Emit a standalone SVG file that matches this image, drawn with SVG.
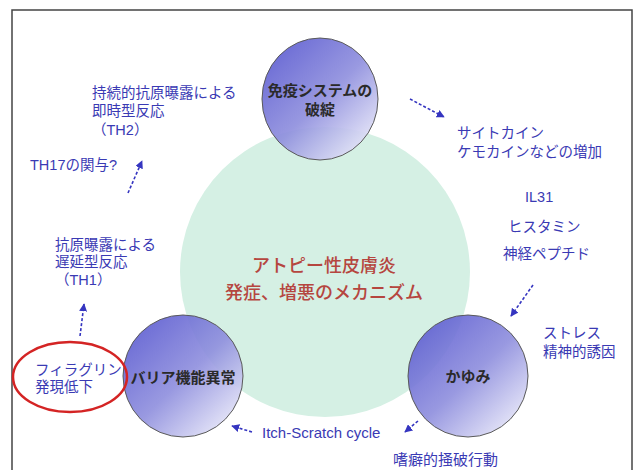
<svg xmlns="http://www.w3.org/2000/svg" width="639" height="470" viewBox="0 0 639 470">
<defs>
<linearGradient id="blueGrad" x1="0.1" y1="0.15" x2="0.85" y2="0.95">
<stop offset="0" stop-color="#6262d2"/>
<stop offset="0.5" stop-color="#9090de"/>
<stop offset="1" stop-color="#e6e6f8"/>
</linearGradient>
<marker id="ah" viewBox="0 0 10 10" refX="9" refY="5" markerWidth="5" markerHeight="5" orient="auto" markerUnits="strokeWidth">
<path d="M0,0 L10,5 L0,10 z" fill="#3535c0"/>
</marker>
<style>
.lbl{font-family:"Liberation Sans","Noto Sans CJK JP",sans-serif;font-size:14.5px;fill:#3a3ab4}
.node{font-family:"Liberation Sans","Noto Sans CJK JP",sans-serif;font-size:15px;font-weight:bold;fill:#2a2a2a;text-anchor:middle}
.title{font-family:"Noto Sans CJK JP",sans-serif;font-size:18px;font-weight:500;fill:#b5463f;text-anchor:middle}
.bub{fill:url(#blueGrad);stroke:#5a5a5a;stroke-width:1;fill-opacity:0.92}
.arr{fill:none;stroke:#3535c0;stroke-width:1.6;stroke-dasharray:3 2;marker-end:url(#ah)}
</style>
</defs>
<rect x="0" y="0" width="639" height="470" fill="#ffffff"/>
<rect x="12" y="10" width="620" height="470" fill="none" stroke="#444" stroke-width="1.5"/>

<g id="center">
<circle cx="325" cy="272" r="145" fill="#d5f0e4"/>
<text class="title" x="324" y="272">アトピー性皮膚炎</text>
<text class="title" x="324" y="299">発症、増悪のメカニズム</text>
</g>

<g id="immune">
<ellipse class="bub" cx="320" cy="99" rx="58" ry="61"/>
<text class="node" x="320" y="96">免疫システムの</text>
<text class="node" x="320" y="115">破綻</text>
</g>

<g id="barrier">
<ellipse class="bub" cx="183" cy="376" rx="60" ry="61"/>
<text class="node" x="183" y="383">バリア機能異常</text>
</g>

<g id="itch">
<ellipse class="bub" cx="468" cy="376" rx="60" ry="61"/>
<text class="node" x="468" y="382">かゆみ</text>
</g>

<g id="filaggrin">
<ellipse cx="70" cy="377" rx="57" ry="35" fill="none" stroke="#d42424" stroke-width="2.5"/>
<text class="lbl" x="35" y="375">フィラグリン</text>
<text class="lbl" x="35" y="392">発現低下</text>
</g>

<g id="th2">
<text class="lbl" x="92" y="98">持続的抗原曝露による</text>
<text class="lbl" x="92" y="116">即時型反応</text>
<text class="lbl" x="92" y="135">（TH2）</text>
</g>
<g id="th17"><text class="lbl" x="30" y="170">TH17の関与?</text></g>
<g id="th1">
<text class="lbl" x="55" y="250">抗原曝露による</text>
<text class="lbl" x="55" y="267">遅延型反応</text>
<text class="lbl" x="55" y="285">（TH1）</text>
</g>
<g id="cytokine">
<text class="lbl" x="457" y="138">サイトカイン</text>
<text class="lbl" x="457" y="157">ケモカインなどの増加</text>
</g>
<g id="mediators">
<text class="lbl" x="525" y="202">IL31</text>
<text class="lbl" x="508" y="232">ヒスタミン</text>
<text class="lbl" x="503" y="259">神経ペプチド</text>
</g>
<g id="stress">
<text class="lbl" x="543" y="338">ストレス</text>
<text class="lbl" x="543" y="357">精神的誘因</text>
</g>
<g id="cycle"><text class="lbl" x="262" y="438" style="font-size:15px">Itch-Scratch cycle</text></g>
<g id="scratch"><text class="lbl" x="393" y="465" style="font-size:15px">嗜癖的掻破行動</text></g>

<g id="connectors">
<line class="arr" x1="410" y1="99" x2="444" y2="117"/>
<line class="arr" x1="533" y1="285" x2="511" y2="316"/>
<line class="arr" x1="418" y1="421" x2="405" y2="432"/>
<line class="arr" x1="252" y1="432" x2="232" y2="426"/>
<line class="arr" x1="80" y1="336" x2="84" y2="304"/>
<line class="arr" x1="128" y1="193" x2="142" y2="161"/>
</g>
</svg>
